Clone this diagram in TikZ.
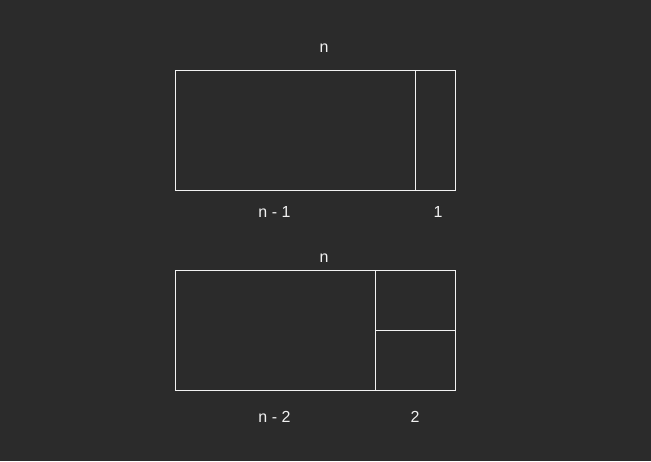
\documentclass[tikz,border=0pt]{standalone}
\usepackage{fontspec}
\setmainfont{Liberation Sans}
\definecolor{bg}{HTML}{2B2B2B}
\definecolor{ln}{HTML}{F2F2F2}
\begin{document}
\begin{tikzpicture}[x=1pt,y=-1pt,
  box/.style={draw=ln,line width=1pt},
  lbl/.style={text=ln,font=\fontsize{16}{18}\selectfont,anchor=base,inner sep=0pt}]
\fill[bg] (0,0) rectangle (651,461);
\useasboundingbox (0,0) rectangle (651,461);
% top
\draw[box] (175.5,70.5) rectangle (455.5,190.5);
\coordinate (t1) at (415.5,70.5);
\coordinate (t2) at (415.5,190.5);
\draw[box] (t1) -- (t2);
\node[lbl] (tn) at (324,52) {n};
\node[lbl] (tn1) at (274.5,217) {n - 1};
\node[lbl] (t1l) at (438,217) {1};
% bottom
\draw[box] (175.5,270.5) rectangle (455.5,390.5);
\coordinate (b1) at (375.5,270.5);
\coordinate (b2) at (375.5,390.5);
\coordinate (b3) at (375.5,330.5);
\coordinate (b4) at (455.5,330.5);
\draw[box] (b1) -- (b2);
\draw[box] (b3) -- (b4);
\node[lbl] (bn) at (324,262) {n};
\node[lbl] (bn2) at (274.5,422) {n - 2};
\node[lbl] (b2l) at (415,422) {2};
\end{tikzpicture}
\end{document}
